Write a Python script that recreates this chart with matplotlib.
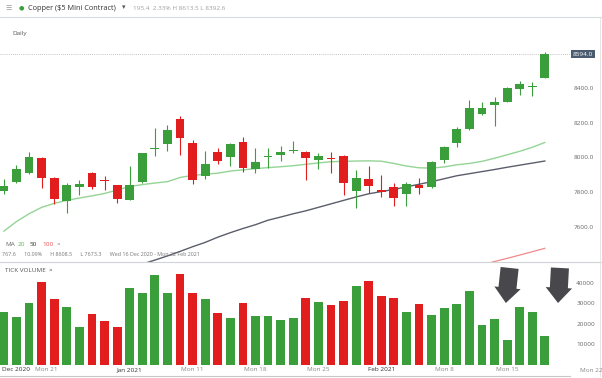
import matplotlib
matplotlib.use("Agg")
import matplotlib.pyplot as plt
import numpy as np

plt.rcParams["font.family"] = ["Open Sans", "DejaVu Sans"]

# candle data, index 0..43
opens = [7807, 7856, 7910, 7996, 7882, 7748, 7831, 7911, 7872, 7839,
         7754, 7858, 8046, 8078, 8219, 8082, 7892, 8032, 8000, 8086,
         7933, 8000, 8013, 8038, 8029, 7984, 7996, 8009, 7807, 7873,
         7812, 7829, 7788, 7842, 7831, 7984, 8081, 8161, 8250, 8301,
         8320, 8394, 8405, 8459]
highs = [7873, 7956, 8029, 8002, 7886, 7852, 7869, 7915, 7894, 7842,
         7950, 8025, 8171, 8186, 8238, 8100, 8038, 8055, 8080, 8115,
         8052, 8052, 8065, 8096, 8035, 8025, 8029, 8012, 7927, 7952,
         7896, 7850, 7856, 7879, 7978, 8067, 8173, 8330, 8320, 8349,
         8407, 8438, 8436, 8609]
lows = [7787, 7850, 7905, 7825, 7729, 7677, 7783, 7819, 7812, 7735,
        7752, 7855, 8007, 8036, 8013, 7849, 7877, 7960, 7950, 7915,
        7911, 7937, 7979, 8023, 7869, 7933, 7911, 7783, 7710, 7793,
        7769, 7721, 7721, 7788, 7821, 7969, 8061, 8155, 8244, 8182,
        8318, 8359, 8353, 8455]
closes = [7836, 7931, 8000, 7881, 7758, 7840, 7846, 7831, 7866, 7758,
          7842, 8023, 8052, 8157, 8113, 7867, 7960, 7979, 8078, 7938,
          7971, 8009, 8029, 8044, 7996, 8006, 7990, 7853, 7882, 7836,
          7802, 7764, 7846, 7825, 7975, 8061, 8161, 8282, 8282, 8317,
          8401, 8422, 8411, 8594]
volume = [26000, 23400, 30200, 40500, 32200, 28300, 18500, 24900, 21500, 18500,
          37600, 35100, 43900, 35100, 44400, 35100, 32200, 25400, 22900, 30200,
          23900, 23900, 22000, 22900, 32700, 30700, 29300, 31200, 38500, 41000,
          33700, 32700, 25900, 29800, 24400, 27800, 29800, 36100, 19500, 22400,
          12200, 28300, 25900, 14100]

ma20 = [7575, 7630, 7675, 7712, 7735, 7752, 7766, 7778, 7792, 7812,
        7832, 7843, 7852, 7860, 7884, 7896, 7903, 7909, 7921, 7928,
        7935, 7941, 7946, 7952, 7960, 7968, 7975, 7977, 7979, 7980,
        7978, 7965, 7950, 7940, 7938, 7945, 7957, 7965, 7977, 7995,
        8015, 8035, 8058, 8086]
ma50_start = 11
ma50 = [7385, 7408, 7432, 7458, 7485, 7510, 7540, 7566, 7590, 7612,
        7638, 7656, 7675, 7692, 7712, 7732, 7752, 7772, 7790, 7803,
        7815, 7830, 7845, 7860, 7877, 7894, 7906, 7918, 7930, 7943,
        7955, 7967, 7979]
ma100_start = 38
ma100 = [7380, 7400, 7418, 7437, 7456, 7476]

week_labels = ["Mon 21", "Jan 2021", "Mon 11", "Mon 18", "Mon 25",
               "Feb 2021", "Mon 8", "Mon 15"]
week_pos = [3.4, 10, 15, 20, 25, 30, 35, 40]
month_labels = ["Jan 2021", "Feb 2021"]

price_ticks = [7600, 7800, 8000, 8200, 8400]
vol_ticks = [10000, 20000, 30000, 40000]
last_price = 8594.0

GREEN = "#3a9f3a"
RED = "#e21d1d"

W, H = 602, 378
fig = plt.figure(figsize=(W / 100, H / 100), dpi=100)


def box(x0, y0, x1, y1):
    return [x0 / W, 1 - y1 / H, (x1 - x0) / W, (y1 - y0) / H]


def px(x, y):
    return x / W, 1 - y / H


ax = fig.add_axes(box(0, 17, 570, 262))
axv = fig.add_axes(box(0, 262, 570, 376), sharex=ax)

n = len(closes)
idx = np.arange(n)
up = np.array(closes) >= np.array(opens)
colors = [GREEN if u else RED for u in up]

# candles
ax.vlines(idx, lows, highs, colors=colors, lw=0.8, zorder=2)
body_lo = np.minimum(opens, closes)
body_h = np.maximum(np.abs(np.array(closes) - np.array(opens)), 5)
ax.bar(idx, body_h, bottom=body_lo, width=0.7, color=colors, zorder=3)

# moving averages
ax.plot(idx, ma20, color="#94d494", lw=1.0, zorder=1)
ax.plot(idx[ma50_start:], ma50, color="#5a5e6a", lw=1.0, zorder=1)
ax.plot(idx[ma100_start:], ma100, color="#f08a8a", lw=0.9, zorder=1)

ax.axhline(last_price, color="#b0b0b0", lw=0.6, ls=(0, (1, 1.5)), zorder=0)

ax.set_xlim(-0.31, 45.0)
ax.set_ylim(7397, 8809)
ax.set_yticks(price_ticks)
ax.set_yticklabels([f"{t:.1f}" for t in price_ticks])
ax.yaxis.tick_right()
ax.tick_params(axis="y", length=0, pad=2.5, labelsize=4.6, labelcolor="#666666")
ax.tick_params(axis="x", length=0, labelbottom=False)
for s in ax.spines.values():
    s.set_visible(False)

ax.text(1.005, last_price, f"{last_price:.1f}", transform=ax.get_yaxis_transform(),
        ha="left", va="center", fontsize=4.6, color="white",
        bbox=dict(boxstyle="square,pad=0.25", fc="#4b5c70", ec="none"))

# volume
axv.bar(idx, volume, width=0.7, color=colors)
axv.set_ylim(-5400, 50200)
axv.set_yticks(vol_ticks)
axv.set_yticklabels([str(t) for t in vol_ticks])
axv.yaxis.tick_right()
axv.tick_params(axis="y", length=0, pad=4.5, labelsize=4.6, labelcolor="#666666")
axv.tick_params(axis="x", length=0, labelbottom=False)
for s in axv.spines.values():
    s.set_visible(False)
axv.spines["bottom"].set_visible(True)
axv.spines["bottom"].set_color("#c8c8c8")
axv.spines["bottom"].set_linewidth(0.8)

tr = axv.get_xaxis_transform()
for lab, p in zip(week_labels, week_pos):
    strong = lab in month_labels
    axv.text(p, 0.055, lab, transform=tr, ha="center", va="center", fontsize=4.6,
             color="#333333" if strong else "#888888")
axv.text(-0.15, 0.055, "Dec 2020", transform=tr, ha="left", va="center", fontsize=4.6,
         color="#333333")
fig.text(*px(580, 370), "Mon 22", ha="left", va="center", fontsize=4.6, color="#888888")

# arrows
for (x0, x1) in [(40.2, 39.9), (44.2, 44.05)]:
    axv.annotate("", xy=(x1, 30200), xytext=(x0, 47300),
                 arrowprops=dict(arrowstyle="simple,head_width=1.9,head_length=1.1,tail_width=1.3",
                                 mutation_scale=10, fc="#48484c", ec="none",
                                 shrinkA=0, shrinkB=0),
                 annotation_clip=False)

# frame lines
fig.add_artist(plt.Line2D([0, 1], [1 - 17 / H] * 2, color="#d6dce2", lw=0.8))
fig.add_artist(plt.Line2D([0, 1], [1 - 262 / H] * 2, color="#d0d4d8", lw=0.8))
fig.add_artist(plt.Line2D([600 / W] * 2, [1 - 376 / H, 1 - 17 / H], color="#e0e0e0", lw=0.6))

# header texts
fig.text(*px(5, 8), "☰", fontsize=5, color="#9a9a9a", va="center")
fig.text(*px(19, 8), "●", fontsize=4.5, color=GREEN, va="center")
fig.text(*px(28, 8), "Copper ($5 Mini Contract)", fontsize=5.3, color="#333333", va="center")
fig.text(*px(122, 8), "▾", fontsize=5, color="#555555", va="center")
fig.text(*px(133, 8), "195.4  2.33% H 8613.5 L 8392.6", fontsize=4.6, color="#9aa39a", va="center")
fig.text(*px(12, 33), "Daily", fontsize=4.6, color="#555555", va="center")

# legend and info line
fig.text(*px(5, 244), "MA", fontsize=4.6, color="#666666", va="center")
fig.text(*px(18, 244), "20", fontsize=4.6, color="#5cb85c", va="center")
fig.text(*px(30, 244), "50", fontsize=4.6, color="#333333", va="center")
fig.text(*px(42, 244), "100", fontsize=4.6, color="#e85555", va="center")
fig.text(*px(57, 244), "×", fontsize=4.6, color="#888888", va="center")
fig.text(*px(2, 255), "767.6      10.09%      H 8608.5      L 7673.3      Wed 16 Dec 2020 - Mon 22 Feb 2021",
         fontsize=3.9, color="#777777", va="center")
fig.text(*px(5, 271), "TICK VOLUME  ×", fontsize=4.6, color="#555555", va="center")

fig.savefig("out.png", dpi=100)
